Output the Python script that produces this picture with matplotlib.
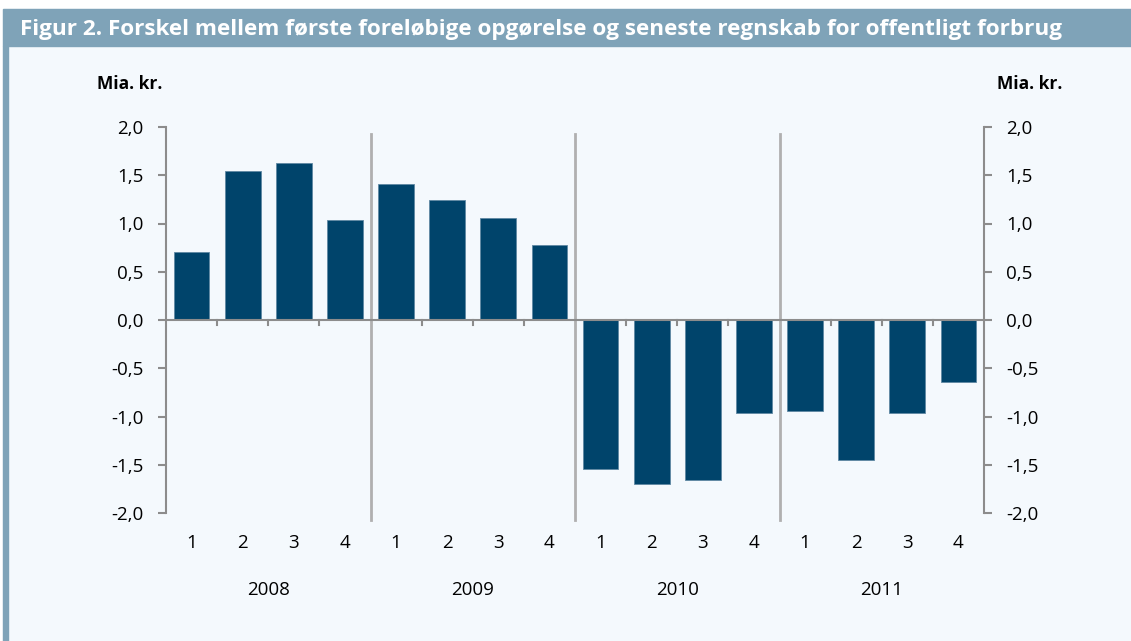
import matplotlib.pyplot as plt
import matplotlib.transforms as mtransforms
from matplotlib.ticker import FuncFormatter
import numpy as np

plt.rcParams['font.family'] = ['Open Sans', 'DejaVu Sans']

years = ["2008", "2009", "2010", "2011"]
quarters = ["1", "2", "3", "4"]
values = [0.70, 1.54, 1.63, 1.04,
          1.41, 1.24, 1.06, 0.78,
          -1.54, -1.70, -1.66, -0.96,
          -0.94, -1.45, -0.96, -0.64]
title = "Figur 2. Forskel mellem første foreløbige opgørelse og seneste regnskab for offentligt forbrug"
unit = "Mia. kr."

bg = "#F4F9FD"
band = "#7FA3B8"
bar_color = "#00446B"
axis_gray = "#8C8C8C"
sep_gray = "#B0B0B0"

fig = plt.figure(figsize=(11.31, 6.41), dpi=100)
fig.patch.set_facecolor("white")
W, H = 1131, 641

# background panel, title band and left border
fig.patches.append(plt.Rectangle((3 / W, 0), 1 - 3 / W, 1 - 9 / H,
                                 transform=fig.transFigure, color=bg, zorder=-3))
fig.patches.append(plt.Rectangle((3 / W, 1 - 46 / H), 1 - 3 / W, 37 / H,
                                 transform=fig.transFigure, color=band, zorder=-2))
fig.patches.append(plt.Rectangle((3 / W, 0), 5 / W, 1 - 46 / H,
                                 transform=fig.transFigure, color=band, zorder=-2))
fig.text(20 / W, 1 - 29 / H, title, color="white", fontsize=16.2, fontweight="bold",
         va="center", ha="left")

ax = fig.add_axes([166 / W, 1 - 513 / H, (984 - 166) / W, (513 - 127) / H])
ax.set_facecolor("none")

x = np.arange(len(values))
ax.bar(x, values, width=0.7, color=bar_color, edgecolor="#5F88A3", linewidth=0.6, zorder=3)
ax.set_xlim(-0.5, len(values) - 0.5)
ax.set_ylim(-2, 2)
ax.set_yticks(np.arange(-2, 2.01, 0.5))
fmt = FuncFormatter(lambda v, p: f"{v:.1f}".replace(".", ","))
ax.yaxis.set_major_formatter(fmt)

for s in ["top", "right", "bottom"]:
    ax.spines[s].set_visible(False)
ax.spines["left"].set_color(axis_gray)
ax.spines["left"].set_linewidth(1.5)
ax.tick_params(axis="y", direction="out", length=6, width=1.5, color=axis_gray,
               labelsize=13.5, pad=10)

ax.axhline(0, color=axis_gray, linewidth=1.5, zorder=4)

# quarter labels
ax.set_xticks(x)
ax.set_xticklabels(quarters * len(years), fontsize=13.5)
ax.tick_params(axis="x", length=0, pad=15)

# small ticks at zero between quarters, separators between years
for b in np.arange(0.5, len(values) - 1, 1.0):
    if (b + 0.5) % 4 == 0:
        ax.plot([b, b], [1.93, -2.07], color=sep_gray, linewidth=2, clip_on=False, zorder=2)
    else:
        ax.plot([b, b], [0, -0.055], color=axis_gray, linewidth=1.5, zorder=4)

trans = mtransforms.blended_transform_factory(ax.transData, ax.transAxes)
for i, yr in enumerate(years):
    ax.text(i * 4 + 1.5, -0.2, yr, transform=trans, ha="center", va="center", fontsize=13.5)

ax2 = ax.twinx()
ax2.set_ylim(-2, 2)
ax2.set_yticks(np.arange(-2, 2.01, 0.5))
ax2.yaxis.set_major_formatter(fmt)
for s in ["top", "left", "bottom"]:
    ax2.spines[s].set_visible(False)
ax2.spines["right"].set_color(axis_gray)
ax2.spines["right"].set_linewidth(1.5)
ax2.tick_params(axis="y", direction="out", length=6, width=1.5, color=axis_gray,
                labelsize=13.5, pad=10)

fig.text(130 / W, 1 - 84 / H, unit, ha="center", va="center", fontsize=12.5, fontweight="bold")
fig.text(1030 / W, 1 - 84 / H, unit, ha="center", va="center", fontsize=12.5, fontweight="bold")

fig.savefig("out.png", dpi=100, facecolor=fig.get_facecolor())
